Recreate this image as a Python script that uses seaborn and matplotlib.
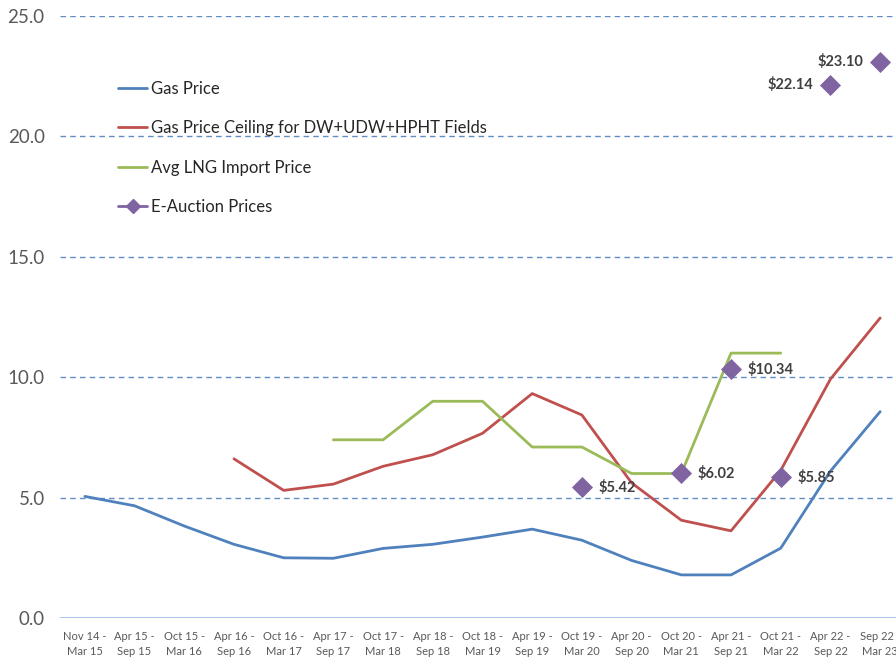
import numpy as np
import pandas as pd
import matplotlib
matplotlib.use("Agg")
import matplotlib.pyplot as plt
from matplotlib.lines import Line2D
import seaborn as sns

periods = ["Nov 14 -\nMar 15", "Apr 15 -\nSep 15", "Oct 15 -\nMar 16", "Apr 16 -\nSep 16",
           "Oct 16 -\nMar 17", "Apr 17 -\nSep 17", "Oct 17 -\nMar 18", "Apr 18 -\nSep 18",
           "Oct 18 -\nMar 19", "Apr 19 -\nSep 19", "Oct 19 -\nMar 20", "Apr 20 -\nSep 20",
           "Oct 20 -\nMar 21", "Apr 21 -\nSep 21", "Oct 21 -\nMar 22", "Apr 22 -\nSep 22",
           "Sep 22 -\nMar 23"]

gas_price = [5.05, 4.66, 3.82, 3.06, 2.50, 2.48, 2.89, 3.06, 3.36, 3.69, 3.23, 2.39,
             1.79, 1.79, 2.90, 6.10, 8.57]
ceiling_price = [np.nan, np.nan, np.nan, 6.61, 5.30, 5.56, 6.30, 6.78, 7.67, 9.32, 8.43,
                 5.61, 4.06, 3.62, 6.13, 9.92, 12.46]
lng_price = [np.nan, np.nan, np.nan, np.nan, np.nan, 7.4, 7.4, 9.0, 9.0, 7.1, 7.1,
             6.0, 6.0, 11.0, 11.0, np.nan, np.nan]
auction_price = [np.nan, np.nan, np.nan, np.nan, np.nan, np.nan, np.nan, np.nan, np.nan,
                 np.nan, 5.42, np.nan, 6.02, 10.34, 5.85, 22.14, 23.10]

series_names = ["Gas Price", "Gas Price Ceiling for DW+UDW+HPHT Fields",
                "Avg LNG Import Price", "E-Auction Prices"]
colors = ["#4F81BD", "#C0504D", "#9BBB59", "#8064A2"]

sns.set_style("white")
plt.rcParams["font.family"] = ["Lato", "DejaVu Sans"]

fig = plt.figure(figsize=(8.96, 6.57), dpi=100)
ax = fig.add_axes([60 / 896, 39 / 657, 845 / 896, 602 / 657])

idx = np.arange(len(periods))
df = pd.DataFrame({"pos": idx, "gas": gas_price, "ceil": ceiling_price,
                   "lng": lng_price, "auction": auction_price})

for col, c in zip(["gas", "ceil", "lng"], colors[:3]):
    sub = df.dropna(subset=[col])
    sns.lineplot(data=sub, x="pos", y=col, color=c, lw=2, ax=ax, legend=False)

sub = df.dropna(subset=["auction"])
sns.scatterplot(data=sub, x="pos", y="auction", marker="D", s=115, color=colors[3],
                edgecolor=colors[3], linewidth=0, ax=ax, legend=False, zorder=5)

# value labels on the auction markers
for _, r in sub.iterrows():
    txt = f"${r['auction']:.2f}"
    if r["auction"] > 20:
        ax.annotate(txt, (r["pos"], r["auction"]), xytext=(-12, 0), textcoords="offset points",
                    ha="right", va="center", fontsize=10.5, fontweight="bold", color="#404040")
    else:
        ax.annotate(txt, (r["pos"], r["auction"]), xytext=(12, 0), textcoords="offset points",
                    ha="left", va="center", fontsize=10.5, fontweight="bold", color="#404040")

ax.set_xlim(-0.5, len(periods) - 0.5)
ax.set_ylim(0, 25)
ax.set_yticks([0, 5, 10, 15, 20, 25])
ax.set_yticklabels([f"{v:.1f}" for v in [0, 5, 10, 15, 20, 25]], fontsize=13.5, color="#595959")
ax.set_xticks(idx)
ax.set_xticklabels(periods, fontsize=8, color="#595959", linespacing=1.55)
ax.tick_params(axis="both", length=0)
ax.tick_params(axis="y", pad=11)
ax.tick_params(axis="x", pad=9)
ax.set_xlabel("")
ax.set_ylabel("")

for v in [5, 10, 15, 20, 25]:
    ax.axhline(v, color="#4F81BD", lw=1, ls=(0, (4, 3)), zorder=0, alpha=0.9)
ax.axhline(0, color="#9DBBE0", lw=1.2, zorder=0)

for s in ax.spines.values():
    s.set_visible(False)

handles = [Line2D([], [], color=colors[0], lw=2),
           Line2D([], [], color=colors[1], lw=2),
           Line2D([], [], color=colors[2], lw=2),
           Line2D([], [], color=colors[3], lw=2, marker="D", markersize=7)]
ax.legend(handles, series_names, loc="upper left", bbox_to_anchor=(0.051, 0.917),
          frameon=False, fontsize=12, labelspacing=1.4, handlelength=1.75,
          handletextpad=0.2, labelcolor="#262626")

fig.savefig("out.png", dpi=100)
